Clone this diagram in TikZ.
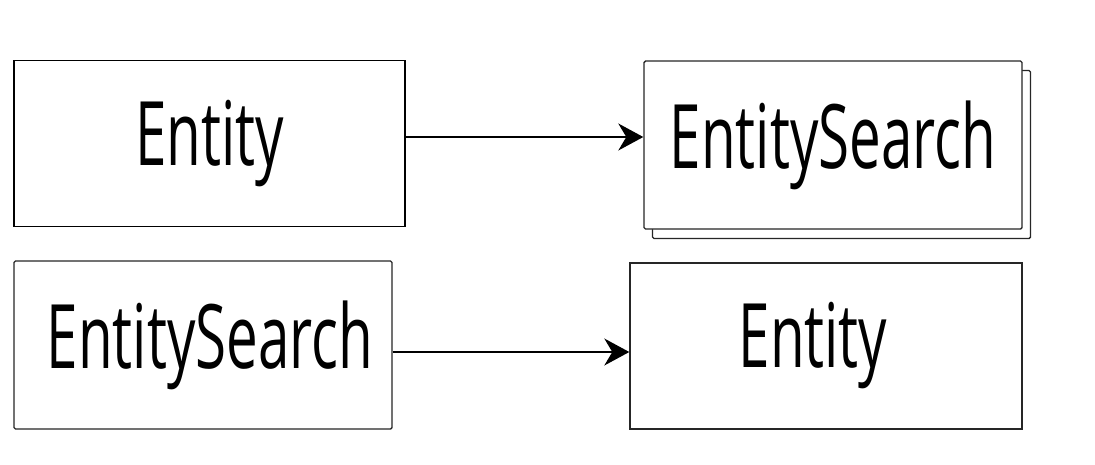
\documentclass[tikz,border=0pt]{standalone}
\usepackage{fontspec}
\setmainfont{Open Sans}[FakeStretch=0.635]
\usetikzlibrary{arrows.meta,shadows}

\tikzset{
  entbox/.style={draw=black!85, line width=1.4pt, fill=white, rounded corners=1.5pt,
    inner sep=0pt, font=\fontsize{89}{100}\selectfont},
  flow/.style={-{Stealth[length=25pt,width=27pt,inset=8pt]}, line width=1.6pt}
}

\begin{document}
\begin{tikzpicture}[x=1pt,y=-1pt]
		\useasboundingbox (0,0) rectangle (1095,464);
		% top row
		\node[entbox, draw=black, rounded corners=0pt, minimum width=391pt, minimum height=166pt] (ent1) at (209.5,143.5) {Entity};
		\node[entbox, copy shadow={shadow xshift=8.5pt, shadow yshift=-9.5pt}, minimum width=378pt, minimum height=168pt] (srch1) at (833,145) {EntitySearch};
		\draw[flow] ([yshift=6.5pt]ent1.east) -- ([yshift=6.5pt]ent1.east -| srch1.west);
		% bottom row
		\node[entbox, minimum width=378pt, minimum height=168pt] (srch2) at (203,345) {\hspace*{14pt}EntitySearch};
		\node[entbox, rounded corners=0pt, minimum width=392pt, minimum height=166pt] (ent2) at (826,346) {Entity\hspace*{26pt}};
		\draw[flow] ([yshift=-7pt]srch2.east) -- ([yshift=-7pt]srch2.east -| ent2.west);
	\end{tikzpicture}
\end{document}
